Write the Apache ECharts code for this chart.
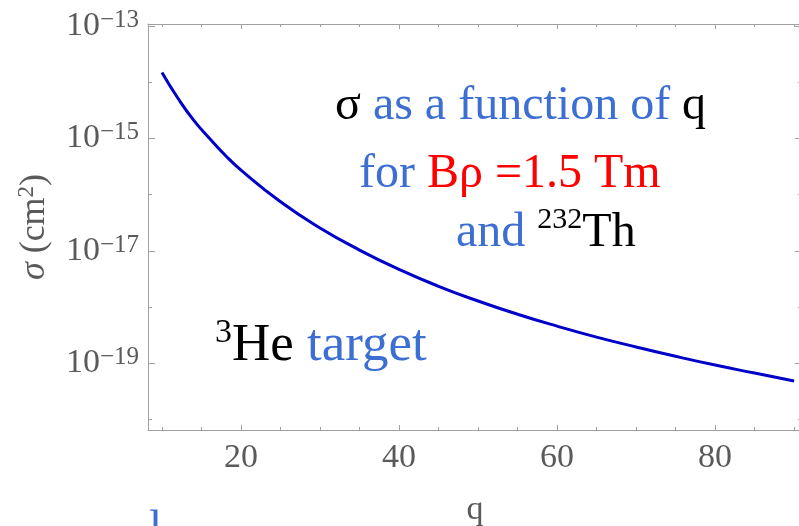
<!DOCTYPE html>
<html><head><meta charset="utf-8">
<script src="https://cdn.jsdelivr.net/npm/echarts@6/dist/echarts.min.js"></script>
<style>html,body{margin:0;padding:0;background:#fff}#c{width:799px;height:526px}</style>
</head><body><div id="c"></div>
<script>
// ---- data ----
const qValues = [10, 12, 14, 16, 18, 20, 25, 30, 35, 40, 45, 50, 55, 60, 65, 70, 75, 80, 85, 90];
const sigmaValues = [1.48e-14, 5.2e-15, 2.1e-15, 1.0e-15, 5.0e-16, 2.72e-16, 7.45e-17, 2.55e-17, 1.03e-17, 4.66e-18,
  2.34e-18, 1.28e-18, 7.46e-19, 4.58e-19, 2.92e-19, 1.95e-19, 1.33e-19, 9.3e-20, 6.7e-20, 4.83e-20];
const xTickLabels = [20, 40, 60, 80];
const xMinorTicks = [10, 15, 20, 25, 30, 35, 40, 45, 50, 55, 60, 65, 70, 75, 80, 85, 90];
const yLabelValues = [1e-13, 1e-15, 1e-17, 1e-19];
const yMinorValues = [1e-20, 1e-19, 1e-18, 1e-17, 1e-16, 1e-15, 1e-14, 1e-13];
const xRange = [8.23, 91.0];
const yRange = [Math.pow(10, -20.186), Math.pow(10, -12.968)];

const SERIF = "'Liberation Serif', 'Times New Roman', serif";
const AX = '#a0a0a0';
const LBL = '#5a5a5a';
const BLUE = '#3c6fd1';

function xAxisDef(pos, ticks, len, showLine, labels, name) {
  return {
    type: 'value', position: pos, min: xRange[0], max: xRange[1],
    axisLine: { show: showLine, lineStyle: { color: AX, width: 1 } },
    axisTick: { show: true, inside: true, length: len, customValues: ticks, lineStyle: { color: AX } },
    axisLabel: labels ? {
      show: true, customValues: labels, color: LBL, fontFamily: SERIF, fontSize: 34, margin: 11
    } : { show: false },
    splitLine: { show: false },
    name: name || '', nameLocation: 'middle', nameGap: 63,
    nameTextStyle: { color: LBL, fontFamily: SERIF, fontSize: 34 }
  };
}
function yAxisDef(pos, ticks, len, showLine, labels, withName) {
  const ax = {
    type: 'log', logBase: 10, position: pos, min: yRange[0], max: yRange[1],
    axisLine: { show: showLine, lineStyle: { color: AX, width: 1 } },
    axisTick: { show: true, inside: true, length: len, customValues: ticks, lineStyle: { color: AX } },
    axisLabel: labels ? {
      show: true, customValues: labels, margin: 9,
      formatter: function (v) {
        const e = Math.round(Math.log10(v));
        return '{b|10}{s|\u2212' + Math.abs(e) + '}';
      },
      rich: {
        b: { fontFamily: SERIF, fontSize: 34, color: LBL, lineHeight: 36 },
        s: { fontFamily: SERIF, fontSize: 25, color: LBL, lineHeight: 18, verticalAlign: 'top' }
      }
    } : { show: false },
    splitLine: { show: false }
  };
  if (withName) {
    ax.name = '{i|\u03c3} (cm{s|2})';
    ax.nameLocation = 'middle';
    ax.nameGap = 89;
    ax.nameTextStyle = {
      rich: {
        i: { fontFamily: SERIF, fontSize: 36, color: LBL, fontStyle: 'italic', lineHeight: 40 },
        s: { fontFamily: SERIF, fontSize: 23, color: LBL, lineHeight: 20, verticalAlign: 'top' }
      },
      fontFamily: SERIF, fontSize: 36, color: LBL, lineHeight: 40
    };
  }
  return ax;
}

const chart = echarts.init(document.getElementById('c'), null, { renderer: 'canvas' });
chart.setOption({
  animation: false,
  backgroundColor: '#fff',
  grid: { left: 148, top: 24, right: -3, bottom: 96, containLabel: false, outerBoundsMode: 'none' },
  xAxis: [
    xAxisDef('bottom', xMinorTicks, 3, true, xTickLabels, 'q'),
    xAxisDef('bottom', xTickLabels, 5, false, null),
    xAxisDef('top', xMinorTicks, 3, true, null),
    xAxisDef('top', xTickLabels, 5, false, null)
  ],
  yAxis: [
    yAxisDef('left', yMinorValues, 4, true, yLabelValues, true),
    yAxisDef('left', yLabelValues, 7, false, null, false),
    yAxisDef('right', yMinorValues, 4, true, null, false),
    yAxisDef('right', yLabelValues, 7, false, null, false)
  ],
  series: [{
    type: 'line', xAxisIndex: 0, yAxisIndex: 0,
    data: qValues.map((q, i) => [q, sigmaValues[i]]),
    smooth: true, showSymbol: false, symbol: 'none',
    lineStyle: { color: '#0000c8', width: 3 }
  }],
  graphic: [
    { type: 'text', x: 335, y: 106, style: {
      text: '{k|\u03c3} {b|as a function of} {k|q}', align: 'left', verticalAlign: 'middle',
      rich: {
        k: { fill: '#000', fontFamily: SERIF, fontSize: 48, lineHeight: 56 },
        b: { fill: BLUE, fontFamily: SERIF, fontSize: 48, lineHeight: 56 }
      }, font: '48px ' + SERIF } },
    { type: 'text', x: 359, y: 174, style: {
      text: '{b|for} {r|B\u03c1 =1.5 Tm}', align: 'left', verticalAlign: 'middle',
      rich: {
        b: { fill: BLUE, fontFamily: SERIF, fontSize: 48, lineHeight: 56 },
        r: { fill: '#ff0000', fontFamily: SERIF, fontSize: 48, lineHeight: 56 }
      }, font: '48px ' + SERIF } },
    { type: 'text', x: 456, y: 233, style: {
      text: '{b|and} {s|232}{k|Th}', align: 'left', verticalAlign: 'middle',
      rich: {
        b: { fill: BLUE, fontFamily: SERIF, fontSize: 48, lineHeight: 56 },
        k: { fill: '#000', fontFamily: SERIF, fontSize: 48, lineHeight: 56 },
        s: { fill: '#000', fontFamily: SERIF, fontSize: 30, lineHeight: 38, verticalAlign: 'top' }
      }, font: '48px ' + SERIF } },
    { type: 'text', x: 215, y: 346, style: {
      text: '{s|3}{k|He} {b|target}', align: 'left', verticalAlign: 'middle',
      rich: {
        b: { fill: BLUE, fontFamily: SERIF, fontSize: 53, lineHeight: 60 },
        k: { fill: '#000', fontFamily: SERIF, fontSize: 53, lineHeight: 60 },
        s: { fill: '#000', fontFamily: SERIF, fontSize: 34, lineHeight: 37, verticalAlign: 'top' }
      }, font: '53px ' + SERIF } },
    { type: 'text', x: 149, y: 506, style: {
      text: 'l', fill: BLUE, font: '47px ' + SERIF, align: 'left', verticalAlign: 'top' } }
  ]
});
</script>
</body></html>
